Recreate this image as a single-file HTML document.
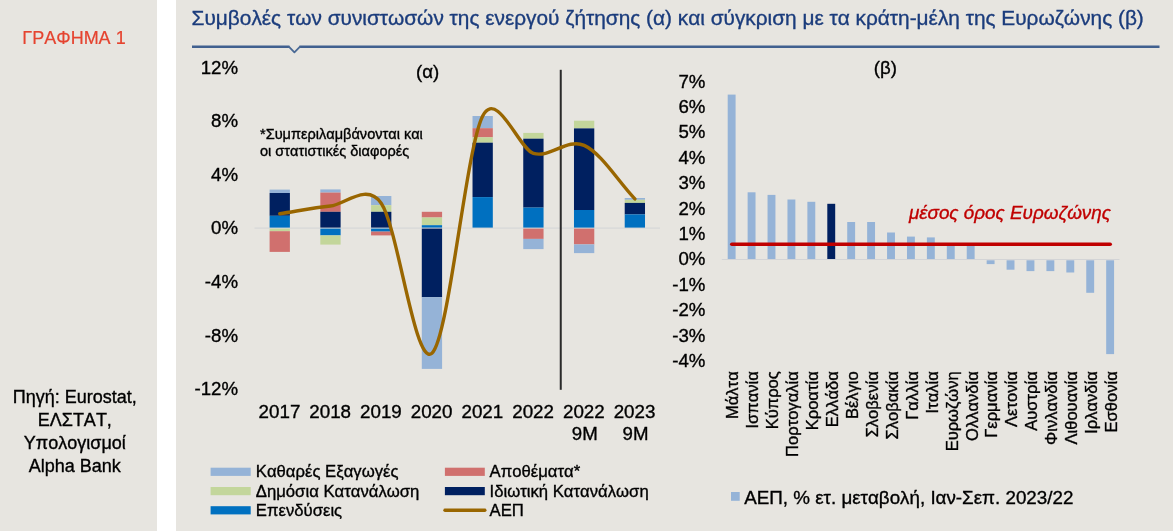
<!DOCTYPE html>
<html lang="el"><head><meta charset="utf-8"><title>ΓΡΑΦΗΜΑ 1</title>
<style>
html,body{margin:0;padding:0;background:#e7e5e0;}
body{width:1173px;height:531px;overflow:hidden;}
svg{display:block;font-family:"Liberation Sans",sans-serif;}
text{fill:#000;stroke:#000;stroke-width:0.35px;font-kerning:none;}
</style></head><body>
<svg width="1173" height="531" viewBox="0 0 1173 531">
<rect x="0" y="0" width="1173" height="531" fill="#e7e5e0"/>
<rect x="157" y="0" width="19" height="531" fill="#ffffff"/>
<text x="74" y="44.2" font-size="18" text-anchor="middle" style="fill:#e5432f;stroke:#e5432f;stroke-width:0.2px">ΓΡΑΦΗΜΑ 1</text>
<text x="74.8" y="402.8" font-size="18" text-anchor="middle">Πηγή: Eurostat,</text>
<text x="74.8" y="425.9" font-size="18" text-anchor="middle">ΕΛΣΤΑΤ,</text>
<text x="74.8" y="449.0" font-size="18" text-anchor="middle">Υπολογισμοί</text>
<text x="74.8" y="472.1" font-size="18" text-anchor="middle">Alpha Bank</text>
<text x="191.6" y="25.2" font-size="20.83" style="fill:#1b3c7c;stroke:#1b3c7c">Συμβολές των συνιστωσών της ενεργού ζήτησης (α) και σύγκριση με τα κράτη-μέλη της Ευρωζώνης (β)</text>
<path d="M192 46.8 H289.4 M299.5 46.8 H1159.5" fill="none" stroke="#41608f" stroke-width="2.4"/><path d="M288.6 46.4 L294.4 52.3 L300.3 46.4" fill="none" stroke="#4a6995" stroke-width="1.8" stroke-linejoin="round"/>
<text x="238" y="73.6" font-size="18.67" text-anchor="end">12%</text>
<text x="238" y="127.2" font-size="18.67" text-anchor="end">8%</text>
<text x="238" y="180.8" font-size="18.67" text-anchor="end">4%</text>
<text x="238" y="234.4" font-size="18.67" text-anchor="end">0%</text>
<text x="238" y="288.0" font-size="18.67" text-anchor="end">-4%</text>
<text x="238" y="341.6" font-size="18.67" text-anchor="end">-8%</text>
<text x="238" y="395.2" font-size="18.67" text-anchor="end">-12%</text>
<rect x="254.5" y="227.6" width="405.5" height="1" fill="#d3d4d6"/>
<rect x="269.60" y="189.60" width="20.30" height="3.40" fill="#95b3d7"/>
<rect x="269.60" y="193.00" width="20.30" height="22.80" fill="#002060"/>
<rect x="269.60" y="215.80" width="20.30" height="11.80" fill="#0070c0"/>
<rect x="269.60" y="228.60" width="20.30" height="2.60" fill="#c3d69b"/>
<rect x="269.60" y="231.20" width="20.30" height="20.70" fill="#d0706e"/>
<rect x="320.33" y="189.40" width="20.30" height="3.20" fill="#95b3d7"/>
<rect x="320.33" y="192.60" width="20.30" height="19.20" fill="#d0706e"/>
<rect x="320.33" y="211.80" width="20.30" height="15.80" fill="#002060"/>
<rect x="320.33" y="228.60" width="20.30" height="6.80" fill="#0070c0"/>
<rect x="320.33" y="235.40" width="20.30" height="9.20" fill="#c3d69b"/>
<rect x="371.06" y="196.00" width="20.30" height="9.20" fill="#95b3d7"/>
<rect x="371.06" y="205.20" width="20.30" height="6.60" fill="#c3d69b"/>
<rect x="371.06" y="211.80" width="20.30" height="15.80" fill="#002060"/>
<rect x="371.06" y="228.60" width="20.30" height="3.00" fill="#0070c0"/>
<rect x="371.06" y="231.60" width="20.30" height="3.80" fill="#d0706e"/>
<rect x="421.79" y="211.80" width="20.30" height="5.70" fill="#d0706e"/>
<rect x="421.79" y="217.50" width="20.30" height="7.70" fill="#c3d69b"/>
<rect x="421.79" y="225.20" width="20.30" height="2.40" fill="#0070c0"/>
<rect x="421.79" y="228.60" width="20.30" height="68.60" fill="#002060"/>
<rect x="421.79" y="297.20" width="20.30" height="71.70" fill="#95b3d7"/>
<rect x="472.52" y="116.00" width="20.30" height="12.20" fill="#95b3d7"/>
<rect x="472.52" y="128.20" width="20.30" height="9.10" fill="#d0706e"/>
<rect x="472.52" y="137.30" width="20.30" height="5.40" fill="#c3d69b"/>
<rect x="472.52" y="142.70" width="20.30" height="54.40" fill="#002060"/>
<rect x="472.52" y="197.10" width="20.30" height="30.50" fill="#0070c0"/>
<rect x="523.25" y="132.90" width="20.30" height="5.80" fill="#c3d69b"/>
<rect x="523.25" y="138.70" width="20.30" height="68.90" fill="#002060"/>
<rect x="523.25" y="207.60" width="20.30" height="20.00" fill="#0070c0"/>
<rect x="523.25" y="228.60" width="20.30" height="10.30" fill="#d0706e"/>
<rect x="523.25" y="238.90" width="20.30" height="10.20" fill="#95b3d7"/>
<rect x="573.98" y="120.70" width="20.30" height="7.70" fill="#c3d69b"/>
<rect x="573.98" y="128.40" width="20.30" height="81.60" fill="#002060"/>
<rect x="573.98" y="210.00" width="20.30" height="17.60" fill="#0070c0"/>
<rect x="573.98" y="228.60" width="20.30" height="15.80" fill="#d0706e"/>
<rect x="573.98" y="244.40" width="20.30" height="8.70" fill="#95b3d7"/>
<rect x="624.71" y="198.00" width="20.30" height="1.80" fill="#95b3d7"/>
<rect x="624.71" y="199.80" width="20.30" height="3.10" fill="#c3d69b"/>
<rect x="624.71" y="202.90" width="20.30" height="11.50" fill="#002060"/>
<rect x="624.71" y="214.40" width="20.30" height="13.20" fill="#0070c0"/>
<rect x="559.75" y="69.8" width="2" height="320" fill="#2a2a2a"/>
<path d="M279.75 213.70 C296.66 211.13 313.57 207.75 330.48 206.00 C344.90 204.51 366.79 182.28 381.21 203.20 C398.12 227.73 415.03 367.73 431.94 353.20 C448.85 338.67 465.76 149.30 482.67 116.00 C496.94 87.90 519.13 149.27 533.40 153.40 C550.31 158.30 567.22 137.82 584.13 145.40 C601.04 152.98 617.95 181.07 634.86 198.90" fill="none" stroke="#996600" stroke-width="3.4" stroke-linecap="round" stroke-linejoin="round"/>
<text x="279.45" y="417.7" font-size="18.8" text-anchor="middle">2017</text>
<text x="330.18" y="417.7" font-size="18.8" text-anchor="middle">2018</text>
<text x="380.91" y="417.7" font-size="18.8" text-anchor="middle">2019</text>
<text x="431.64" y="417.7" font-size="18.8" text-anchor="middle">2020</text>
<text x="482.37" y="417.7" font-size="18.8" text-anchor="middle">2021</text>
<text x="533.10" y="417.7" font-size="18.8" text-anchor="middle">2022</text>
<text x="583.83" y="417.7" font-size="18.8" text-anchor="middle">2022</text>
<text x="634.56" y="417.7" font-size="18.8" text-anchor="middle">2023</text>
<text x="584.83" y="439.9" font-size="18.67" text-anchor="middle">9M</text>
<text x="635.56" y="439.9" font-size="18.67" text-anchor="middle">9M</text>
<text x="427.7" y="77.8" font-size="18.67" text-anchor="middle">(α)</text>
<text x="260" y="138.6" font-size="14.56">*Συμπεριλαμβάνονται και</text>
<text x="260" y="156" font-size="14.56">οι στατιστικές διαφορές</text>
<rect x="210.6" y="467.7" width="40.1" height="8.2" fill="#95b3d7"/>
<text x="255.8" y="477.2" font-size="16.7">Καθαρές Εξαγωγές</text>
<rect x="210.6" y="487.0" width="40.1" height="8.2" fill="#c3d69b"/>
<text x="255.8" y="496.5" font-size="16.7">Δημόσια Κατανάλωση</text>
<rect x="210.6" y="506.2" width="40.1" height="8.2" fill="#0070c0"/>
<text x="255.8" y="515.8" font-size="16.7">Επενδύσεις</text>
<rect x="444.9" y="467.7" width="39.9" height="8.2" fill="#d0706e"/>
<text x="489.5" y="477.2" font-size="16.7">Αποθέματα*</text>
<rect x="444.9" y="487.0" width="39.9" height="8.2" fill="#002060"/>
<text x="489.5" y="496.5" font-size="16.7">Ιδιωτική Κατανάλωση</text>
<path d="M445 510.3 H484.8" stroke="#996600" stroke-width="3.4" stroke-linecap="round" fill="none"/>
<text x="489.5" y="516" font-size="16.7">ΑΕΠ</text>
<text x="705.4" y="87.6" font-size="18.67" text-anchor="end">7%</text>
<text x="705.4" y="113.0" font-size="18.67" text-anchor="end">6%</text>
<text x="705.4" y="138.4" font-size="18.67" text-anchor="end">5%</text>
<text x="705.4" y="163.8" font-size="18.67" text-anchor="end">4%</text>
<text x="705.4" y="189.2" font-size="18.67" text-anchor="end">3%</text>
<text x="705.4" y="214.6" font-size="18.67" text-anchor="end">2%</text>
<text x="705.4" y="240.0" font-size="18.67" text-anchor="end">1%</text>
<text x="705.4" y="265.4" font-size="18.67" text-anchor="end">0%</text>
<text x="705.4" y="290.8" font-size="18.67" text-anchor="end">-1%</text>
<text x="705.4" y="316.2" font-size="18.67" text-anchor="end">-2%</text>
<text x="705.4" y="341.6" font-size="18.67" text-anchor="end">-3%</text>
<text x="705.4" y="367.0" font-size="18.67" text-anchor="end">-4%</text>
<rect x="721.8" y="259" width="397.7" height="1" fill="#d3d4d6"/>
<rect x="727.70" y="94.60" width="7.90" height="164.40" fill="#95b3d7"/>
<rect x="747.62" y="192.30" width="7.90" height="66.70" fill="#95b3d7"/>
<rect x="767.54" y="194.90" width="7.90" height="64.10" fill="#95b3d7"/>
<rect x="787.46" y="199.50" width="7.90" height="59.50" fill="#95b3d7"/>
<rect x="807.38" y="201.80" width="7.90" height="57.20" fill="#95b3d7"/>
<rect x="827.30" y="203.80" width="7.90" height="55.20" fill="#002060"/>
<rect x="847.22" y="222.00" width="7.90" height="37.00" fill="#95b3d7"/>
<rect x="867.14" y="222.00" width="7.90" height="37.00" fill="#95b3d7"/>
<rect x="887.06" y="232.50" width="7.90" height="26.50" fill="#95b3d7"/>
<rect x="906.98" y="236.60" width="7.90" height="22.40" fill="#95b3d7"/>
<rect x="926.90" y="237.40" width="7.90" height="21.60" fill="#95b3d7"/>
<rect x="946.82" y="243.50" width="7.90" height="15.50" fill="#95b3d7"/>
<rect x="966.74" y="244.00" width="7.90" height="15.00" fill="#95b3d7"/>
<rect x="986.66" y="260.30" width="7.90" height="3.80" fill="#95b3d7"/>
<rect x="1006.58" y="260.30" width="7.90" height="9.40" fill="#95b3d7"/>
<rect x="1026.50" y="260.30" width="7.90" height="10.80" fill="#95b3d7"/>
<rect x="1046.42" y="260.30" width="7.90" height="10.80" fill="#95b3d7"/>
<rect x="1066.34" y="260.30" width="7.90" height="12.20" fill="#95b3d7"/>
<rect x="1086.26" y="260.30" width="7.90" height="32.50" fill="#95b3d7"/>
<rect x="1106.18" y="260.30" width="7.90" height="93.80" fill="#95b3d7"/>
<text transform="translate(738.40 371.3) rotate(-90)" font-size="16.55" text-anchor="end">Μάλτα</text>
<text transform="translate(758.33 371.3) rotate(-90)" font-size="16.55" text-anchor="end">Ισπανία</text>
<text transform="translate(778.26 371.3) rotate(-90)" font-size="16.55" text-anchor="end">Κύπρος</text>
<text transform="translate(798.19 371.3) rotate(-90)" font-size="16.55" text-anchor="end">Πορτογαλία</text>
<text transform="translate(818.12 371.3) rotate(-90)" font-size="16.55" text-anchor="end">Κροατία</text>
<text transform="translate(838.05 371.3) rotate(-90)" font-size="16.55" text-anchor="end">Ελλάδα</text>
<text transform="translate(857.98 371.3) rotate(-90)" font-size="16.55" text-anchor="end">Βέλγιο</text>
<text transform="translate(877.91 371.3) rotate(-90)" font-size="16.55" text-anchor="end">Σλοβενία</text>
<text transform="translate(897.84 371.3) rotate(-90)" font-size="16.55" text-anchor="end">Σλοβακία</text>
<text transform="translate(917.77 371.3) rotate(-90)" font-size="16.55" text-anchor="end">Γαλλία</text>
<text transform="translate(937.70 371.3) rotate(-90)" font-size="16.55" text-anchor="end">Ιταλία</text>
<text transform="translate(957.63 371.3) rotate(-90)" font-size="16.55" text-anchor="end">Ευρωζώνη</text>
<text transform="translate(977.56 371.3) rotate(-90)" font-size="16.55" text-anchor="end">Ολλανδία</text>
<text transform="translate(997.49 371.3) rotate(-90)" font-size="16.55" text-anchor="end">Γερμανία</text>
<text transform="translate(1017.42 371.3) rotate(-90)" font-size="16.55" text-anchor="end">Λετονία</text>
<text transform="translate(1037.35 371.3) rotate(-90)" font-size="16.55" text-anchor="end">Αυστρία</text>
<text transform="translate(1057.28 371.3) rotate(-90)" font-size="16.55" text-anchor="end">Φινλανδία</text>
<text transform="translate(1077.21 371.3) rotate(-90)" font-size="16.55" text-anchor="end">Λιθουανία</text>
<text transform="translate(1097.14 371.3) rotate(-90)" font-size="16.55" text-anchor="end">Ιρλανδία</text>
<text transform="translate(1117.07 371.3) rotate(-90)" font-size="16.55" text-anchor="end">Εσθονία</text>
<path d="M731.8 244.3 H1110.2" stroke="#c00000" stroke-width="3.6" stroke-linecap="round" fill="none"/>
<text x="908.9" y="218.6" font-size="18.87" font-style="italic" style="fill:#c00000;stroke:#c00000">μέσος όρος Ευρωζώνης</text>
<text x="885.3" y="73.6" font-size="18.67" text-anchor="middle">(β)</text>
<rect x="731" y="492" width="8.7" height="8.8" fill="#95b3d7"/>
<text x="744.2" y="503.5" font-size="18.8">ΑΕΠ, % ετ. μεταβολή, Ιαν-Σεπ. 2023/22</text>
</svg></body></html>
